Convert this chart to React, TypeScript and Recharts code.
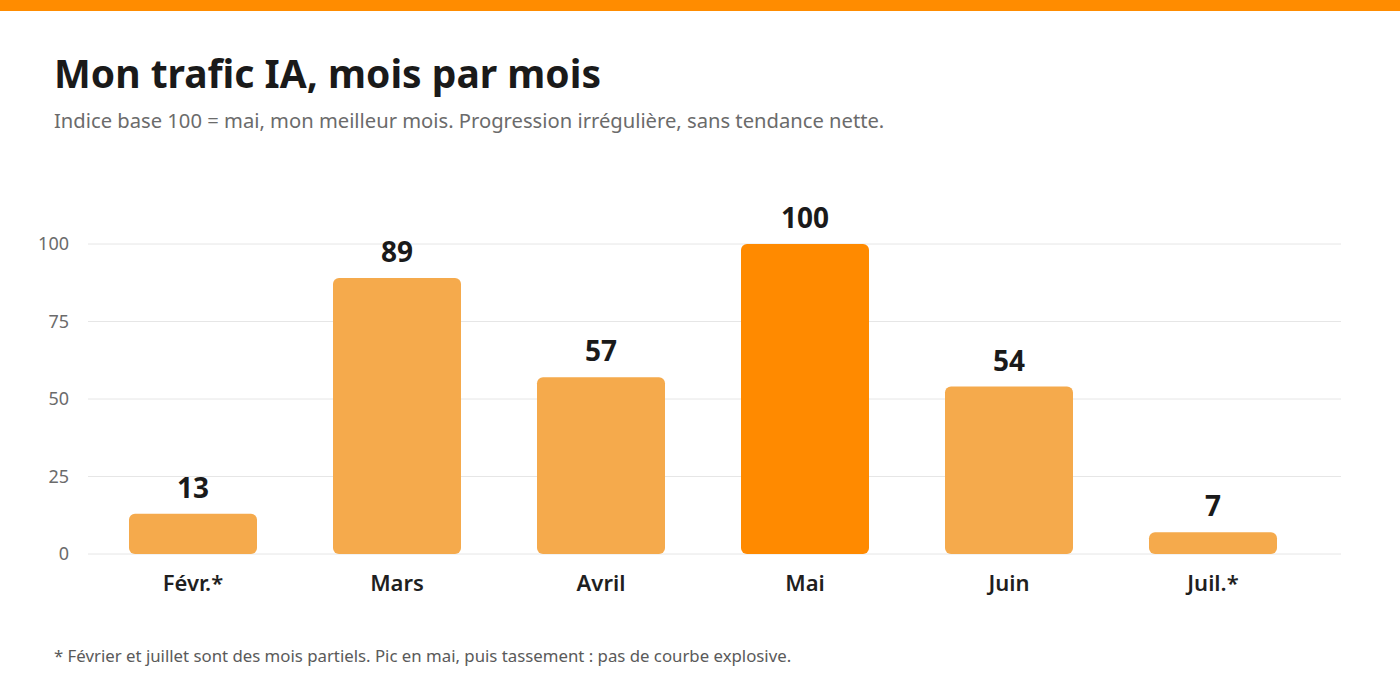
import { BarChart, Bar, XAxis, YAxis, CartesianGrid, LabelList, Cell } from "recharts"

const months = ["Févr.*", "Mars", "Avril", "Mai", "Juin", "Juil.*"]
const traffic = [13, 89, 57, 100, 54, 7]
const peakMonth = "Mai"
const yTicks = [0, 25, 50, 75, 100]

const FONT = "'Noto Sans', 'Open Sans', sans-serif"
const ORANGE = "#FF8A00"
const ORANGE_SOFT = "#F5AA4C"

const data = months.map((month, i) => ({ month, value: traffic[i] }))

export default function App() {
    return (
        <div
            style={{
                position: "absolute",
                top: 0,
                left: 0,
                width: 1400,
                height: 688,
                background: "#fff",
                fontFamily: FONT,
                overflow: "hidden",
            }}
        >
            <div style={{ position: "absolute", top: 0, left: 0, width: 1400, height: 11, background: "#FF8C00" }} />
            <div
                style={{
                    position: "absolute",
                    left: 54,
                    top: 47,
                    fontSize: 39,
                    fontWeight: 700,
                    color: "#1a1a1a",
                    lineHeight: "52px",
                    whiteSpace: "nowrap",
                }}
            >
                Mon trafic IA, mois par mois
            </div>
            <div
                style={{
                    position: "absolute",
                    left: 54,
                    top: 106,
                    fontSize: 20.2,
                    color: "#6b6b6b",
                    lineHeight: "28px",
                    whiteSpace: "nowrap",
                }}
            >
                Indice base 100 = mai, mon meilleur mois. Progression irrégulière, sans tendance nette.
            </div>
            <div style={{ position: "absolute", top: 0, left: 0 }}>
                <BarChart
                    width={1400}
                    height={688}
                    data={data}
                    margin={{ top: 244, right: 59, bottom: 94, left: 0 }}
                >
                    <CartesianGrid vertical={false} stroke="#e6e6e6" />
                    <XAxis
                        dataKey="month"
                        axisLine={false}
                        tickLine={false}
                        height={40}
                        tickMargin={15}
                        padding={{ left: 3, right: 26 }}
                        tick={{ fill: "#1f1f1f", fontSize: 22, fontWeight: 600, fontFamily: FONT }}
                    />
                    <YAxis
                        width={88}
                        domain={[0, 100]}
                        ticks={yTicks}
                        axisLine={false}
                        tickLine={false}
                        tickSize={0}
                        tickMargin={19}
                        tick={{ fill: "#6b6b6b", fontSize: 18, fontFamily: FONT }}
                    />
                    <Bar dataKey="value" barSize={128} radius={6} isAnimationActive={false}>
                        {data.map((d) => (
                            <Cell key={d.month} fill={d.month === peakMonth ? ORANGE : ORANGE_SOFT} />
                        ))}
                        <LabelList
                            dataKey="value"
                            position="top"
                            offset={16}
                            fill="#1a1a1a"
                            fontSize={28}
                            fontWeight={700}
                            fontFamily={FONT}
                        />
                    </Bar>
                </BarChart>
            </div>
            <div
                style={{
                    position: "absolute",
                    left: 54,
                    top: 644,
                    fontSize: 16.8,
                    color: "#5a5a5a",
                    lineHeight: "24px",
                    whiteSpace: "nowrap",
                }}
            >
                * Février et juillet sont des mois partiels. Pic en mai, puis tassement : pas de courbe explosive.
            </div>
        </div>
    )
}
